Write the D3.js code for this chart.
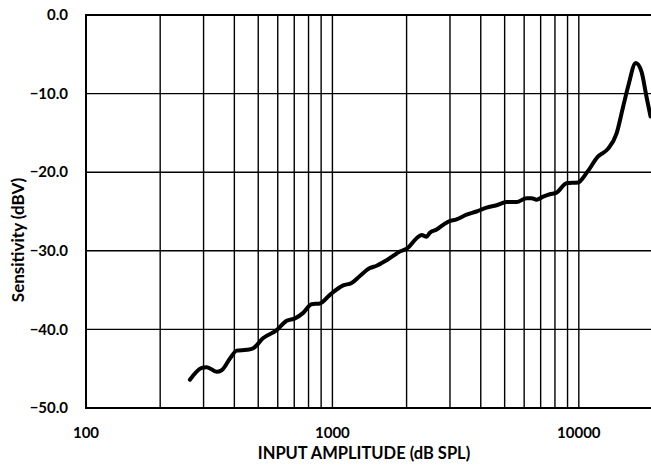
<!DOCTYPE html>
<html>
<head>
<meta charset="utf-8">
<script src="https://cdn.jsdelivr.net/npm/d3@7"></script>
<style>
  body { margin: 0; background: #fff; }
  text { font-family: Lato, "Open Sans", sans-serif; font-weight: bold; fill: #000; }
</style>
</head>
<body>
<div id="chart"></div>
<script>
// frequency (Hz) and sensitivity (dBV)
var freqs = [264, 295, 309, 339, 355, 384, 409, 449, 477, 524, 594, 652, 705, 761, 823, 890, 977,
    1106, 1196, 1293, 1420, 1512, 1660, 1879, 2012, 2196, 2301, 2411, 2486, 2647, 2815, 2950,
    3190, 3503, 3846, 4223, 4636, 5090, 5589, 6136, 6428, 6734, 7165, 7628, 8120, 8916, 9934,
    10745, 11975, 13150, 14220, 15120, 15850, 17030, 17960, 18820, 19540];
var sens = [-46.4, -44.9, -44.8, -45.4, -45.2, -43.7, -42.7, -42.6, -42.4, -41.1, -40.1, -38.9, -38.6, -37.9, -36.8, -36.7, -35.6,
    -34.4, -34.1, -33.2, -32.2, -31.9, -31.2, -30.1, -29.7, -28.4, -28.0, -28.2, -27.7, -27.3, -26.7, -26.3,
    -26.0, -25.4, -25.0, -24.5, -24.2, -23.8, -23.8, -23.3, -23.3, -23.5, -23.1, -22.8, -22.6, -21.4, -21.3,
    -20.1, -18.0, -17.0, -15.1, -11.7, -9.1, -6.1, -7.2, -10.4, -12.9];

var xLabels = [100, 1000, 10000];
var yTicks = [0, -10, -20, -30, -40, -50];

var width = 651, height = 466;
var plotLeft = 86, plotRight = 653, plotTop = 15, plotBottom = 408;

var svg = d3.select('#chart')
    .append('svg')
    .attr('width', width)
    .attr('height', height);

var x = d3.scaleLog().domain([100, 20000]).range([plotLeft, plotRight]);
var y = d3.scaleLinear().domain([-50, 0]).range([plotBottom, plotTop]);

// vertical grid: every minor log tick
var gridX = x.ticks().filter(function (d) { return d > 100 && d < 20000; });
svg.selectAll('.vgrid')
    .data(gridX)
    .enter().append('line')
    .attr('x1', function (d) { return x(d); })
    .attr('x2', function (d) { return x(d); })
    .attr('y1', plotTop)
    .attr('y2', plotBottom)
    .attr('stroke', '#000')
    .attr('stroke-width', 1.4);

svg.selectAll('.hgrid')
    .data(yTicks.filter(function (d) { return d < 0 && d > -50; }))
    .enter().append('line')
    .attr('x1', plotLeft)
    .attr('x2', plotRight)
    .attr('y1', function (d) { return y(d); })
    .attr('y2', function (d) { return y(d); })
    .attr('stroke', '#000')
    .attr('stroke-width', 1.4);

// plot border
svg.append('rect')
    .attr('x', plotLeft)
    .attr('y', plotTop)
    .attr('width', plotRight - plotLeft)
    .attr('height', plotBottom - plotTop)
    .attr('fill', 'none')
    .attr('stroke', '#000')
    .attr('stroke-width', 2);

// data line
var pts = freqs.map(function (f, i) { return [f, sens[i]]; });
var line = d3.line()
    .x(function (d) { return x(d[0]); })
    .y(function (d) { return y(d[1]); })
    .curve(d3.curveMonotoneX);

svg.append('path')
    .datum(pts)
    .attr('d', line)
    .attr('fill', 'none')
    .attr('stroke', '#000')
    .attr('stroke-width', 4)
    .attr('stroke-linejoin', 'round')
    .attr('stroke-linecap', 'round');

// y tick labels
svg.selectAll('.ylab')
    .data(yTicks)
    .enter().append('text')
    .attr('x', 68)
    .attr('y', function (d) { return y(d); })
    .attr('dy', '0.35em')
    .attr('text-anchor', 'end')
    .attr('font-size', 15)
    .text(function (d) { return d3.format('.1f')(d); });

// x tick labels
svg.selectAll('.xlab')
    .data(xLabels)
    .enter().append('text')
    .attr('x', function (d) { return x(d); })
    .attr('y', 433)
    .attr('dy', '0.35em')
    .attr('text-anchor', 'middle')
    .attr('font-size', 15)
    .text(function (d) { return d; });

svg.append('text')
    .attr('x', 364)
    .attr('y', 453)
    .attr('dy', '0.35em')
    .attr('text-anchor', 'middle')
    .attr('font-size', 16.5)
    .text('INPUT AMPLITUDE (dB SPL)');

svg.append('text')
    .attr('transform', 'translate(18,240) rotate(-90)')
    .attr('dy', '0.35em')
    .attr('text-anchor', 'middle')
    .attr('font-size', 17)
    .text('Sensitivity (dBV)');
</script>
</body>
</html>
